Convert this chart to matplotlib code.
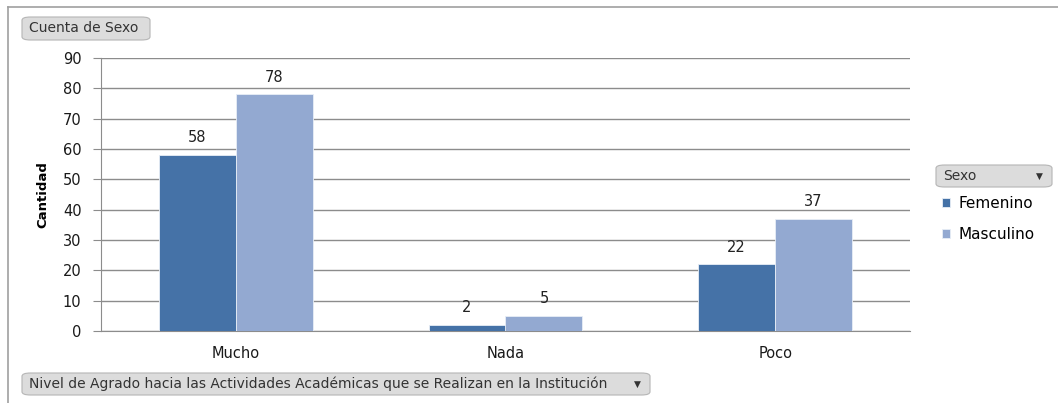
import matplotlib.pyplot as plt
import numpy as np
from matplotlib.patches import FancyBboxPatch
from matplotlib.lines import Line2D

categories = ["Mucho", "Nada", "Poco"]
femenino = [58, 2, 22]
masculino = [78, 5, 37]
series_names = ["Femenino", "Masculino"]
colors = ["#4572a7", "#93a9d1"]

W, H = 1058, 403
fig = plt.figure(figsize=(W / 100, H / 100), dpi=100)
ax = fig.add_axes([101 / W, 1 - 331 / H, (910 - 101) / W, (331 - 58) / H])

x = np.arange(len(categories))
bw = 0.2855
b1 = ax.bar(x - bw / 2, femenino, bw, color=colors[0], edgecolor="#e8eef6", linewidth=0.6,
            label=series_names[0], zorder=3)
b2 = ax.bar(x + bw / 2, masculino, bw, color=colors[1], edgecolor="#e8eef6", linewidth=0.6,
            label=series_names[1], zorder=3)

for bars, vals in ((b1, femenino), (b2, masculino)):
    for rect, v in zip(bars, vals):
        ax.annotate(str(v), (rect.get_x() + rect.get_width() / 2, v), xytext=(0, 7),
                    textcoords="offset points", ha="center", va="bottom",
                    fontsize=10.5, color="#222222")

ax.set_xlim(-0.5, 2.5)
ax.set_ylim(0, 90)
ax.set_yticks(range(0, 91, 10))
ax.set_xticks(x)
ax.set_xticklabels(categories)
ax.tick_params(axis="y", length=6, color="#8c8c8c", labelsize=10.5, labelcolor="#1a1a1a", pad=8)
ax.tick_params(axis="x", length=0, labelsize=10.5, labelcolor="#1a1a1a", pad=11)
ax.yaxis.grid(True, color="#8c8c8c", linewidth=1.0, zorder=0)
ax.set_axisbelow(True)
for s in ["top", "right"]:
    ax.spines[s].set_visible(False)
ax.spines["left"].set_color("#8c8c8c")
ax.spines["bottom"].set_color("#8c8c8c")
ax.set_ylabel("Cantidad", fontsize=9.5, fontweight="bold", family="Liberation Sans Narrow",
              labelpad=10)

# outer frame lines (top and left)
fig.add_artist(Line2D([8 / W, 1], [1 - 7 / H, 1 - 7 / H], color="#a0a0a0", linewidth=1.2))
fig.add_artist(Line2D([8 / W, 8 / W], [0, 1 - 7 / H], color="#a0a0a0", linewidth=1.2))


def button(x0, y0, x1, y1, text, arrow=False):
    box = FancyBboxPatch((x0 / W, 1 - y1 / H), (x1 - x0) / W, (y1 - y0) / H,
                         boxstyle="round,pad=0,rounding_size=0.008",
                         transform=fig.transFigure, facecolor="#dcdcdc",
                         edgecolor="#b5b5b5", linewidth=0.8)
    fig.add_artist(box)
    fig.text((x0 + 7) / W, 1 - (y0 + y1) / 2 / H, text, ha="left", va="center",
             fontsize=10, color="#333333")
    if arrow:
        fig.text((x1 - 13) / W, 1 - (y0 + y1) / 2 / H, "▼", ha="center", va="center",
                 fontsize=6.5, color="#333333")


button(22, 17, 150, 40, "Cuenta de Sexo")
button(936, 165, 1052, 187, "Sexo", arrow=True)
button(22, 373, 650, 395,
       "Nivel de Agrado hacia las Actividades Académicas que se Realizan en la Institución",
       arrow=True)

ax.legend(loc="upper left", bbox_to_anchor=(942 / W, 1 - 196 / H),
          bbox_transform=fig.transFigure, frameon=False, fontsize=11,
          handlelength=0.5, handleheight=0.5, handletextpad=0.6,
          labelspacing=1.05, borderaxespad=0, borderpad=0)

fig.savefig("out.png", dpi=100)
